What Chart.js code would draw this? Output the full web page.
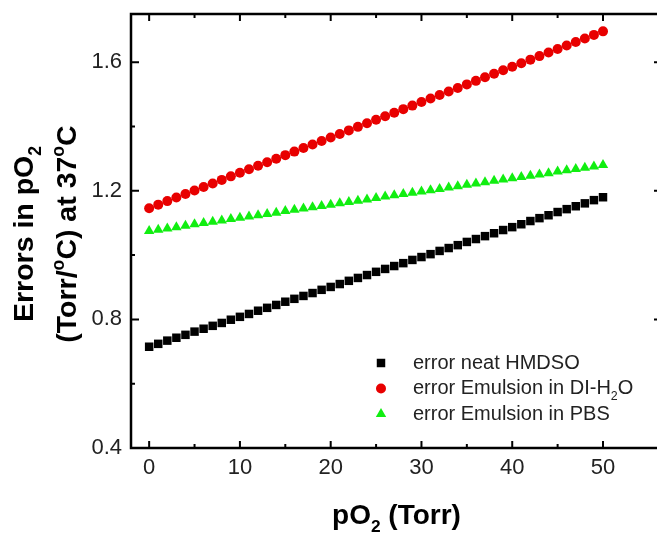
<!DOCTYPE html>
<html>
<head>
<meta charset="utf-8">
<script src="https://cdn.jsdelivr.net/npm/chart.js@4/dist/chart.umd.min.js"></script>
<style>
    html, body { margin: 0; padding: 0; background: #fff; overflow: hidden; }
    #errChart { display: block; }
</style>
</head>
<body>
<canvas id="errChart" width="680" height="535"></canvas>
<script>
// pO2 values (Torr)
const po2 = [0, 1, 2, 3, 4, 5, 6, 7, 8, 9, 10, 11, 12, 13, 14, 15, 16, 17, 18, 19, 20,
    21, 22, 23, 24, 25, 26, 27, 28, 29, 30, 31, 32, 33, 34, 35, 36, 37, 38, 39, 40,
    41, 42, 43, 44, 45, 46, 47, 48, 49, 50];

// errors in pO2 (Torr/oC) at 37oC
const errHMDSO = [0.715, 0.724, 0.734, 0.743, 0.752, 0.762, 0.771, 0.780, 0.789, 0.799, 0.808,
    0.817, 0.827, 0.836, 0.845, 0.855, 0.864, 0.873, 0.882, 0.892, 0.901,
    0.910, 0.920, 0.929, 0.938, 0.948, 0.957, 0.966, 0.975, 0.985, 0.994,
    1.003, 1.013, 1.022, 1.031, 1.041, 1.050, 1.059, 1.068, 1.078, 1.087,
    1.096, 1.106, 1.115, 1.124, 1.134, 1.143, 1.152, 1.161, 1.171, 1.180];
const errDIH2O = [1.146, 1.157, 1.168, 1.179, 1.190, 1.201, 1.212, 1.223, 1.234, 1.245, 1.256,
    1.267, 1.278, 1.289, 1.300, 1.311, 1.322, 1.333, 1.344, 1.355, 1.366,
    1.377, 1.388, 1.399, 1.410, 1.421, 1.432, 1.443, 1.454, 1.465, 1.476,
    1.487, 1.498, 1.509, 1.520, 1.531, 1.542, 1.553, 1.564, 1.575, 1.586,
    1.597, 1.608, 1.619, 1.630, 1.641, 1.652, 1.663, 1.674, 1.685, 1.696];
const errPBS = [1.075, 1.079, 1.083, 1.087, 1.091, 1.096, 1.100, 1.104, 1.108, 1.112, 1.116,
    1.120, 1.124, 1.128, 1.132, 1.137, 1.141, 1.145, 1.149, 1.153, 1.157,
    1.161, 1.165, 1.169, 1.173, 1.178, 1.182, 1.186, 1.190, 1.194, 1.198,
    1.202, 1.206, 1.210, 1.214, 1.219, 1.223, 1.227, 1.231, 1.235, 1.239,
    1.243, 1.247, 1.251, 1.255, 1.260, 1.264, 1.268, 1.272, 1.276, 1.280];

// axis ticks: every value gets a tick mark, labelled ones are longer
const xTicks = [0, 5, 10, 15, 20, 25, 30, 35, 40, 45, 50];
const xTickLabels = [0, 10, 20, 30, 40, 50];
const yTicks = [0.4, 0.6, 0.8, 1.0, 1.2, 1.4, 1.6];
const yTickLabels = [0.4, 0.8, 1.2, 1.6];

const FONT = "'Liberation Sans', Arial, sans-serif";

function isLabelled(list, v) {
    return list.some(function(l) { return Math.abs(l - v) < 1e-6; });
}

// text made of pieces: [text, 'n' | 'sub' | 'sup']
function richWidth(ctx, segs, size, weight) {
    let w = 0;
    segs.forEach(function(s) {
        const sz = s[1] === 'n' ? size : size * 0.62;
        ctx.font = weight + ' ' + sz + 'px ' + FONT;
        w += ctx.measureText(s[0]).width;
    });
    return w;
}

function richText(ctx, segs, x, y, size, weight, align) {
    let cx = align === 'center' ? x - richWidth(ctx, segs, size, weight) / 2 : x;
    ctx.textAlign = 'left';
    ctx.textBaseline = 'middle';
    segs.forEach(function(s) {
        let sz = size, dy = 0;
        if (s[1] === 'sub') { sz = size * 0.62; dy = size * 0.4; }
        if (s[1] === 'sup') { sz = size * 0.62; dy = -size * 0.32; }
        ctx.font = weight + ' ' + sz + 'px ' + FONT;
        ctx.fillText(s[0], cx, y + dy);
        cx += ctx.measureText(s[0]).width;
    });
}

const legendItems = [
    { segs: [['error neat HMDSO', 'n']], style: 'rect', radius: 6, color: '#000000' },
    { segs: [['error Emulsion in DI-H', 'n'], ['2', 'sub'], ['O', 'n']], style: 'circle', radius: 5, color: '#e80000' },
    { segs: [['error Emulsion in PBS', 'n']], style: 'triangle', radius: 6, color: '#11ee11' }
];

const framePlugin = {
    id: 'frame',
    beforeDatasetsDraw(chart) {
        const ctx = chart.ctx;
        const a = chart.chartArea;
        const xs = chart.scales.x, ys = chart.scales.y;
        ctx.save();
        ctx.strokeStyle = '#000';
        ctx.lineWidth = 2.5;
        ctx.strokeRect(a.left, a.top, a.right - a.left, a.bottom - a.top);
        ctx.lineWidth = 2;
        ctx.beginPath();
        xs.ticks.forEach(function(t) {
            const px = xs.getPixelForValue(t.value);
            const len = isLabelled(xTickLabels, t.value) ? 7 : 4;
            ctx.moveTo(px, a.bottom); ctx.lineTo(px, a.bottom - len);
            ctx.moveTo(px, a.top); ctx.lineTo(px, a.top + len);
        });
        ys.ticks.forEach(function(t) {
            const py = ys.getPixelForValue(t.value);
            const len = isLabelled(yTickLabels, t.value) ? 8 : 4;
            ctx.moveTo(a.left, py); ctx.lineTo(a.left + len, py);
            ctx.moveTo(a.right, py); ctx.lineTo(a.right - len, py);
        });
        ctx.stroke();
        ctx.restore();
    },
    afterDraw(chart) {
        const ctx = chart.ctx;
        const a = chart.chartArea;
        ctx.save();
        ctx.fillStyle = '#000';

        // axis titles
        richText(ctx, [['pO', 'n'], ['2', 'sub'], [' (Torr)', 'n']], (a.left + a.right) / 2, 516, 28, 'bold', 'center');
        ctx.save();
        ctx.translate(0, 234);
        ctx.rotate(-Math.PI / 2);
        richText(ctx, [['Errors in pO', 'n'], ['2', 'sub']], 0, 25, 28.5, 'bold', 'center');
        richText(ctx, [['(Torr/', 'n'], ['o', 'sup'], ['C) at 37', 'n'], ['o', 'sup'], ['C', 'n']], 0, 68, 28.5, 'bold', 'center');
        ctx.restore();

        // legend
        legendItems.forEach(function(item, i) {
            const y = 363 + i * 25.5;
            ctx.fillStyle = item.color;
            Chart.helpers.drawPoint(ctx, { pointStyle: item.style, radius: item.radius, rotation: 0, borderWidth: 0 }, 381, y);
            ctx.fillStyle = '#222';
            richText(ctx, item.segs, 413, y, 20, 'normal', 'left');
        });
        ctx.restore();
    }
};

function toPoints(ys) {
    return po2.map(function(x, i) { return { x: x, y: ys[i] }; });
}

new Chart(document.getElementById('errChart').getContext('2d'), {
    type: 'scatter',
    data: {
        datasets: [
            { label: 'error neat HMDSO', data: toPoints(errHMDSO), pointStyle: 'rect', pointRadius: 6,
              backgroundColor: '#000000', borderWidth: 0 },
            { label: 'error Emulsion in DI-H2O', data: toPoints(errDIH2O), pointStyle: 'circle', pointRadius: 5,
              backgroundColor: '#e80000', borderWidth: 0 },
            { label: 'error Emulsion in PBS', data: toPoints(errPBS), pointStyle: 'triangle', pointRadius: 6,
              backgroundColor: '#11ee11', borderWidth: 0 }
        ]
    },
    options: {
        responsive: false,
        animation: false,
        layout: { padding: { top: 14, right: 18, left: 0, bottom: 0 } },
        plugins: { legend: { display: false }, tooltip: { enabled: false } },
        scales: {
            x: {
                type: 'linear',
                min: -2,
                max: 56.5,
                grid: { display: false, drawTicks: false },
                border: { display: false },
                afterFit: function(s) { s.height = 87; s.paddingLeft = 0; s.paddingRight = 0; },
                afterBuildTicks: function(s) {
                    s.ticks = xTicks.map(function(v) { return { value: v }; });
                },
                ticks: {
                    autoSkip: false,
                    maxRotation: 0,
                    padding: 7,
                    color: '#222',
                    font: { family: FONT, size: 22 },
                    callback: function(v) { return isLabelled(xTickLabels, v) ? String(v) : ''; }
                }
            },
            y: {
                min: 0.4,
                max: 1.75,
                grid: { display: false, drawTicks: false },
                border: { display: false },
                afterFit: function(s) { s.width = 131; s.paddingTop = 0; s.paddingBottom = 0; },
                afterBuildTicks: function(s) {
                    s.ticks = yTicks.map(function(v) { return { value: v }; });
                },
                ticks: {
                    autoSkip: false,
                    padding: 9,
                    color: '#222',
                    font: { family: FONT, size: 22 },
                    callback: function(v) { return isLabelled(yTickLabels, v) ? v.toFixed(1) : ''; }
                }
            }
        }
    },
    plugins: [framePlugin]
});
</script>
</body>
</html>
